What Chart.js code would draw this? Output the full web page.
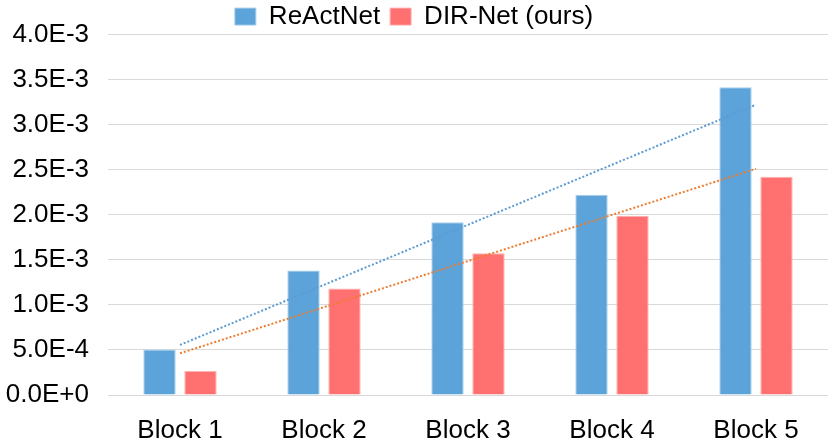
<!DOCTYPE html>
<html>
<head>
<meta charset="utf-8">
<script src="https://cdn.jsdelivr.net/npm/chart.js@4"></script>
<style>
html,body{margin:0;padding:0;background:#fff;}
#c{display:block;}
</style>
</head>
<body>
<canvas id="c" width="831" height="442"></canvas>
<script>
const categories = ['Block 1', 'Block 2', 'Block 3', 'Block 4', 'Block 5'];
const reactNet = [5.05e-4, 1.382e-3, 1.917e-3, 2.223e-3, 3.417e-3];
const dirNet = [2.65e-4, 1.183e-3, 1.574e-3, 1.99e-3, 2.422e-3];
// trendline endpoints (at Block 1 and Block 5)
const reactTrend = [5.56e-4, 3.222e-3];
const dirTrend = [4.63e-4, 2.511e-3];
const yTickLabels = ['0.0E+0', '5.0E-4', '1.0E-3', '1.5E-3', '2.0E-3', '2.5E-3', '3.0E-3', '3.5E-3', '4.0E-3'];

function trendSeries(ends) {
  const arr = categories.map(() => null);
  arr[0] = ends[0];
  arr[arr.length - 1] = ends[1];
  return arr;
}

const FONT = "'Liberation Sans', Arial, sans-serif";

new Chart(document.getElementById('c'), {
  data: {
    labels: categories,
    datasets: [
      {
        type: 'line', label: 'trendR', data: trendSeries(reactTrend), spanGaps: true,
        borderColor: '#5B9BD5', borderWidth: 2, borderDash: [2, 2], pointRadius: 0, order: 0
      },
      {
        type: 'line', label: 'trendD', data: trendSeries(dirTrend), spanGaps: true,
        borderColor: '#ED7D31', borderWidth: 2, borderDash: [2, 2], pointRadius: 0, order: 0
      },
      {
        type: 'bar', label: 'ReActNet', data: reactNet,
        backgroundColor: '#5BA3D8', borderColor: '#A9CDEB', borderWidth: 1,
        categoryPercentage: 0.569, barPercentage: 0.79, order: 1
      },
      {
        type: 'bar', label: 'DIR-Net (ours)', data: dirNet,
        backgroundColor: '#FF7070', borderColor: '#FFB0B0', borderWidth: 1,
        categoryPercentage: 0.569, barPercentage: 0.79, order: 1
      }
    ]
  },
  options: {
    responsive: false,
    animation: false,
    devicePixelRatio: 1,
    layout: { padding: { left: 0, right: 3, top: -8, bottom: 0 } },
    plugins: {
      tooltip: { enabled: false },
      legend: {
        position: 'top',
        maxHeight: 41,
        labels: {
          filter: (item) => item.text === 'ReActNet' || item.text === 'DIR-Net (ours)',
          font: { family: FONT, size: 26 },
          color: '#000',
          boxWidth: 21, boxHeight: 17,
          padding: 10,
          useBorderRadius: false
        }
      }
    },
    scales: {
      x: {
        grid: { display: false, drawTicks: false },
        border: { display: false },
        ticks: { font: { family: FONT, size: 26 }, color: '#000', padding: 20 },
        afterFit: (s) => { s.height = 47; }
      },
      y: {
        min: 0, max: 4e-3,
        grid: { color: '#D9D9D9', lineWidth: 1, drawTicks: false },
        border: { display: false },
        ticks: {
          stepSize: 5e-4,
          font: { family: FONT, size: 26 }, color: '#000', padding: 19,
          callback: (v) => yTickLabels[Math.round(v / 5e-4)]
        },
        afterFit: (s) => { s.width = 108; }
      }
    }
  }
});
</script>
</body>
</html>
